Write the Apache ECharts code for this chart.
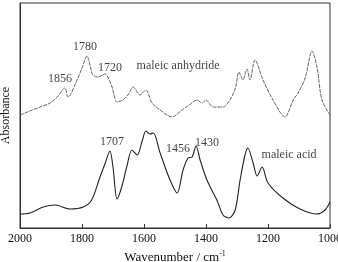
<!DOCTYPE html>
<html>
<head>
<meta charset="utf-8">
<script src="https://cdn.jsdelivr.net/npm/echarts@6/dist/echarts.min.js"></script>
<style>
  html, body { margin: 0; padding: 0; background: #fff; }
  #chart { width: 338px; height: 262px; }
</style>
</head>
<body>
<div id="chart"></div>
<script>
// wavenumber (cm-1) and absorbance (arbitrary units)
const anhydrideWn = [2000, 1968, 1935, 1903, 1880, 1855, 1845, 1816, 1800, 1784, 1772, 1765, 1748, 1726, 1715, 1703, 1687, 1668, 1650, 1635, 1613, 1594, 1574, 1548, 1510, 1477, 1450, 1429, 1413, 1400, 1377, 1345, 1323, 1305, 1294, 1281, 1268, 1258, 1242, 1216, 1184, 1145, 1119, 1103, 1080, 1058, 1042, 1026, 1000];
const anhydrideAbs = [113, 117, 121, 125, 131, 140, 131, 148, 160, 172, 160, 153, 151, 154, 150, 141, 126, 128, 134, 141, 133, 138, 125, 118, 111, 118, 124, 128, 125, 128, 121, 121, 128, 140, 156, 148, 159, 148, 168, 148, 128, 111, 128, 135, 150, 177, 161, 128, 113];

const acidWn = [2000, 1968, 1925, 1887, 1839, 1796, 1769, 1742, 1725, 1710, 1700, 1687, 1672, 1655, 1639, 1622, 1605, 1594, 1581, 1570, 1548, 1516, 1493, 1474, 1458, 1445, 1432, 1419, 1397, 1365, 1345, 1326, 1306, 1290, 1275, 1265, 1248, 1235, 1219, 1200, 1152, 1097, 1042, 1016, 1000];
const acidAbs = [14, 15, 21, 23, 19, 21, 28, 51, 65, 77, 61, 29, 41, 62, 78, 73, 88, 97, 94, 95, 75, 48, 35, 58, 70, 71, 82, 68, 48, 28, 13, 10, 18, 48, 72, 80, 65, 52, 61, 45, 30, 19, 14, 18, 26];

const xTicks = [2000, 1800, 1600, 1400, 1200, 1000];

// annotations: [wavenumber, absorbance, text]
const notes = [
  [1871, 149, '1856'],
  [1790, 181, '1780'],
  [1710, 160, '1720'],
  [1490, 162, 'maleic anhydride'],
  [1703, 86, '1707'],
  [1490, 79, '1456'],
  [1397, 85, '1430'],
  [1132, 73, 'maleic acid']
];

const zip = (xs, ys) => xs.map((x, i) => [x, ys[i]]);
const font = '"Liberation Serif", "DejaVu Serif", serif';

const chart = echarts.init(document.getElementById('chart'), null, { renderer: 'canvas' });

chart.setOption({
  animation: false,
  backgroundColor: '#fff',
  textStyle: { fontFamily: font },
  grid: {
    left: 20, right: 8, top: 3, bottom: 34,
    outerBoundsMode: 'none',
    containLabel: false,
    show: true, borderColor: '#333', borderWidth: 1
  },
  xAxis: {
    type: 'value',
    inverse: true,
    min: 1000,
    max: 2000,
    interval: 200,
    name: 'Wavenumber / cm{sup|-1}',
    nameLocation: 'middle',
    nameGap: 20,
    nameTextStyle: {
      fontFamily: font, fontSize: 13, color: '#111',
      rich: { sup: { fontFamily: font, fontSize: 8, color: '#111', verticalAlign: 'top', padding: [0, 0, 8, 0] } }
    },
    axisLine: { show: true, lineStyle: { color: '#333', width: 1 } },
    axisTick: { show: true, inside: true, length: 4, lineStyle: { color: '#333' } },
    axisLabel: {
      margin: 5, fontFamily: font, fontSize: 12, color: '#111',
      formatter: (v) => (xTicks.includes(v) ? String(v) : '')
    },
    splitLine: { show: false }
  },
  yAxis: {
    type: 'value',
    min: 0,
    max: 225,
    name: 'Absorbance',
    nameLocation: 'middle',
    nameGap: 8,
    nameTextStyle: { fontFamily: font, fontSize: 12, color: '#111' },
    axisLine: { show: true, lineStyle: { color: '#333' } },
    axisTick: { show: false },
    axisLabel: { show: false },
    splitLine: { show: false }
  },
  series: [
    {
      name: 'maleic anhydride',
      type: 'line',
      data: zip(anhydrideWn, anhydrideAbs),
      smooth: 0.3,
      symbol: 'none',
      lineStyle: { color: '#666', width: 1, type: [4, 1] }
    },
    {
      name: 'maleic acid',
      type: 'line',
      data: zip(acidWn, acidAbs),
      smooth: 0.3,
      symbol: 'none',
      lineStyle: { color: '#222', width: 1.1 }
    },
    {
      name: 'notes',
      type: 'scatter',
      symbolSize: 0,
      silent: true,
      data: notes.map((n) => ({ value: [n[0], n[1]], name: n[2] })),
      label: {
        show: true,
        position: 'inside',
        formatter: (p) => p.name,
        fontFamily: font,
        fontSize: 12,
        color: '#111'
      }
    }
  ]
});
</script>
</body>
</html>
